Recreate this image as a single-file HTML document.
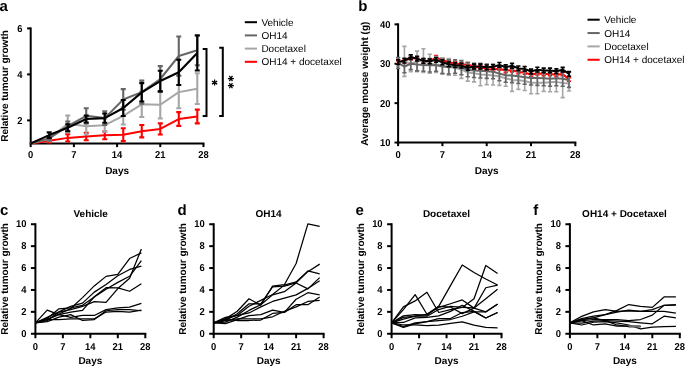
<!DOCTYPE html>
<html><head><meta charset="utf-8"><style>
html,body{margin:0;padding:0;background:#fff;width:685px;height:367px;overflow:hidden}
svg{display:block;will-change:transform}
text{font-family:"Liberation Sans", sans-serif;fill:#000;text-rendering:geometricPrecision}
.tk{font-size:10px;font-weight:bold}
.lb{font-size:10px;font-weight:bold}
.pl{font-size:15px;font-weight:bold}
.lg{font-size:10px}
.ti{font-size:10px;font-weight:bold}
</style></head><body>
<svg width="685" height="367" viewBox="0 0 685 367">
<text x="-0.5" y="10.6" class="pl">a</text>
<text x="358.3" y="10.6" class="pl">b</text>
<text x="0" y="215.3" class="pl">c</text>
<text x="177.6" y="215.3" class="pl">d</text>
<text x="355.6" y="215.3" class="pl">e</text>
<text x="533.3" y="215.3" class="pl">f</text>
<line x1="30.7" y1="27.400000000000006" x2="30.7" y2="144.5" stroke="#000" stroke-width="2.0"/>
<line x1="29.7" y1="143.5" x2="204.45999999999998" y2="143.5" stroke="#000" stroke-width="2.0"/>
<line x1="27.099999999999998" y1="120.4" x2="30.7" y2="120.4" stroke="#000" stroke-width="2.0"/>
<line x1="27.099999999999998" y1="74.4" x2="30.7" y2="74.4" stroke="#000" stroke-width="2.0"/>
<line x1="27.099999999999998" y1="28.400000000000006" x2="30.7" y2="28.400000000000006" stroke="#000" stroke-width="2.0"/>
<line x1="30.7" y1="143.5" x2="30.7" y2="147.1" stroke="#000" stroke-width="2.0"/>
<line x1="73.89" y1="143.5" x2="73.89" y2="147.1" stroke="#000" stroke-width="2.0"/>
<line x1="117.08" y1="143.5" x2="117.08" y2="147.1" stroke="#000" stroke-width="2.0"/>
<line x1="160.26999999999998" y1="143.5" x2="160.26999999999998" y2="147.1" stroke="#000" stroke-width="2.0"/>
<line x1="203.45999999999998" y1="143.5" x2="203.45999999999998" y2="147.1" stroke="#000" stroke-width="2.0"/>
<text transform="translate(22.40,123.70) scale(0.94,1)" text-anchor="end" class="tk">2</text>
<text transform="translate(22.40,77.70) scale(0.94,1)" text-anchor="end" class="tk">4</text>
<text transform="translate(22.40,31.70) scale(0.94,1)" text-anchor="end" class="tk">6</text>
<text transform="translate(30.70,158.10) scale(0.94,1)" text-anchor="middle" class="tk">0</text>
<text transform="translate(73.89,158.10) scale(0.94,1)" text-anchor="middle" class="tk">7</text>
<text transform="translate(117.08,158.10) scale(0.94,1)" text-anchor="middle" class="tk">14</text>
<text transform="translate(160.27,158.10) scale(0.94,1)" text-anchor="middle" class="tk">21</text>
<text transform="translate(203.46,158.10) scale(0.94,1)" text-anchor="middle" class="tk">28</text>
<text transform="translate(8.3,86.0) rotate(-90)" text-anchor="middle" class="lb">Relative tumour growth</text>
<text x="117.08" y="173.6" text-anchor="middle" class="lb">Days</text>
<path d="M30.70,143.40 L49.21,140.64 L67.72,137.88 L86.23,136.50 L104.74,135.35 L123.25,134.66 L141.76,131.21 L160.27,128.91 L178.78,119.02 L197.29,116.49" fill="none" stroke="#ff0000" stroke-width="2.0" stroke-linejoin="round"/>
<path d="M49.21,138.80 L49.21,142.48 M46.71,138.80 L51.71,138.80 M46.71,142.48 L51.71,142.48" stroke="#ff0000" stroke-width="2.1" fill="none"/>
<path d="M67.72,134.20 L67.72,141.56 M65.22,134.20 L70.22,134.20 M65.22,141.56 L70.22,141.56" stroke="#ff0000" stroke-width="2.1" fill="none"/>
<path d="M86.23,132.82 L86.23,140.18 M83.73,132.82 L88.73,132.82 M83.73,140.18 L88.73,140.18" stroke="#ff0000" stroke-width="2.1" fill="none"/>
<path d="M104.74,131.44 L104.74,139.26 M102.24,131.44 L107.24,131.44 M102.24,139.26 L107.24,139.26" stroke="#ff0000" stroke-width="2.1" fill="none"/>
<path d="M123.25,128.22 L123.25,141.10 M120.75,128.22 L125.75,128.22 M120.75,141.10 L125.75,141.10" stroke="#ff0000" stroke-width="2.1" fill="none"/>
<path d="M141.76,125.00 L141.76,137.42 M139.26,125.00 L144.26,125.00 M139.26,137.42 L144.26,137.42" stroke="#ff0000" stroke-width="2.1" fill="none"/>
<path d="M160.27,123.39 L160.27,134.43 M157.77,123.39 L162.77,123.39 M157.77,134.43 L162.77,134.43" stroke="#ff0000" stroke-width="2.1" fill="none"/>
<path d="M178.78,112.12 L178.78,125.92 M176.28,112.12 L181.28,112.12 M176.28,125.92 L181.28,125.92" stroke="#ff0000" stroke-width="2.1" fill="none"/>
<path d="M197.29,109.59 L197.29,123.39 M194.79,109.59 L199.79,109.59 M194.79,123.39 L199.79,123.39" stroke="#ff0000" stroke-width="2.1" fill="none"/>
<path d="M30.70,143.40 L49.21,138.80 L67.72,123.85 L86.23,126.15 L104.74,125.23 L123.25,115.80 L141.76,104.30 L160.27,104.76 L178.78,92.11 L197.29,88.66" fill="none" stroke="#a6a6a6" stroke-width="2.0" stroke-linejoin="round"/>
<path d="M49.21,136.50 L49.21,141.10 M46.71,136.50 L51.71,136.50 M46.71,141.10 L51.71,141.10" stroke="#a6a6a6" stroke-width="2.1" fill="none"/>
<path d="M67.72,115.57 L67.72,132.13 M65.22,115.57 L70.22,115.57 M65.22,132.13 L70.22,132.13" stroke="#a6a6a6" stroke-width="2.1" fill="none"/>
<path d="M86.23,117.87 L86.23,134.43 M83.73,117.87 L88.73,117.87 M83.73,134.43 L88.73,134.43" stroke="#a6a6a6" stroke-width="2.1" fill="none"/>
<path d="M104.74,118.79 L104.74,131.67 M102.24,118.79 L107.24,118.79 M102.24,131.67 L107.24,131.67" stroke="#a6a6a6" stroke-width="2.1" fill="none"/>
<path d="M123.25,107.06 L123.25,124.54 M120.75,107.06 L125.75,107.06 M120.75,124.54 L125.75,124.54" stroke="#a6a6a6" stroke-width="2.1" fill="none"/>
<path d="M141.76,91.65 L141.76,116.95 M139.26,91.65 L144.26,91.65 M139.26,116.95 L144.26,116.95" stroke="#a6a6a6" stroke-width="2.1" fill="none"/>
<path d="M160.27,90.96 L160.27,118.56 M157.77,90.96 L162.77,90.96 M157.77,118.56 L162.77,118.56" stroke="#a6a6a6" stroke-width="2.1" fill="none"/>
<path d="M178.78,76.01 L178.78,108.21 M176.28,76.01 L181.28,76.01 M176.28,108.21 L181.28,108.21" stroke="#a6a6a6" stroke-width="2.1" fill="none"/>
<path d="M197.29,73.25 L197.29,104.07 M194.79,73.25 L199.79,73.25 M194.79,104.07 L199.79,104.07" stroke="#a6a6a6" stroke-width="2.1" fill="none"/>
<path d="M30.70,143.40 L49.21,138.34 L67.72,126.15 L86.23,115.80 L104.74,118.10 L123.25,99.47 L141.76,92.11 L160.27,79.00 L178.78,56.00 L197.29,50.25" fill="none" stroke="#666666" stroke-width="2.0" stroke-linejoin="round"/>
<path d="M49.21,136.04 L49.21,140.64 M46.71,136.04 L51.71,136.04 M46.71,140.64 L51.71,140.64" stroke="#666666" stroke-width="2.1" fill="none"/>
<path d="M67.72,121.55 L67.72,130.75 M65.22,121.55 L70.22,121.55 M65.22,130.75 L70.22,130.75" stroke="#666666" stroke-width="2.1" fill="none"/>
<path d="M86.23,108.21 L86.23,123.39 M83.73,108.21 L88.73,108.21 M83.73,123.39 L88.73,123.39" stroke="#666666" stroke-width="2.1" fill="none"/>
<path d="M104.74,111.20 L104.74,125.00 M102.24,111.20 L107.24,111.20 M102.24,125.00 L107.24,125.00" stroke="#666666" stroke-width="2.1" fill="none"/>
<path d="M123.25,89.12 L123.25,109.82 M120.75,89.12 L125.75,89.12 M120.75,109.82 L125.75,109.82" stroke="#666666" stroke-width="2.1" fill="none"/>
<path d="M141.76,80.61 L141.76,103.61 M139.26,80.61 L144.26,80.61 M139.26,103.61 L144.26,103.61" stroke="#666666" stroke-width="2.1" fill="none"/>
<path d="M160.27,66.12 L160.27,91.88 M157.77,66.12 L162.77,66.12 M157.77,91.88 L162.77,91.88" stroke="#666666" stroke-width="2.1" fill="none"/>
<path d="M178.78,36.45 L178.78,75.55 M176.28,36.45 L181.28,36.45 M176.28,75.55 L181.28,75.55" stroke="#666666" stroke-width="2.1" fill="none"/>
<path d="M197.29,35.30 L197.29,65.20 M194.79,35.30 L199.79,35.30 M194.79,65.20 L199.79,65.20" stroke="#666666" stroke-width="2.1" fill="none"/>
<path d="M30.70,143.40 L49.21,135.12 L67.72,127.76 L86.23,119.02 L104.74,118.10 L123.25,107.98 L141.76,92.34 L160.27,81.07 L178.78,72.33 L197.29,53.01" fill="none" stroke="#000000" stroke-width="2.15" stroke-linejoin="round"/>
<path d="M49.21,132.36 L49.21,137.88 M46.71,132.36 L51.71,132.36 M46.71,137.88 L51.71,137.88" stroke="#000000" stroke-width="2.1" fill="none"/>
<path d="M67.72,124.31 L67.72,131.21 M65.22,124.31 L70.22,124.31 M65.22,131.21 L70.22,131.21" stroke="#000000" stroke-width="2.1" fill="none"/>
<path d="M86.23,115.57 L86.23,122.47 M83.73,115.57 L88.73,115.57 M83.73,122.47 L88.73,122.47" stroke="#000000" stroke-width="2.1" fill="none"/>
<path d="M104.74,113.50 L104.74,122.70 M102.24,113.50 L107.24,113.50 M102.24,122.70 L107.24,122.70" stroke="#000000" stroke-width="2.1" fill="none"/>
<path d="M123.25,99.93 L123.25,116.03 M120.75,99.93 L125.75,99.93 M120.75,116.03 L125.75,116.03" stroke="#000000" stroke-width="2.1" fill="none"/>
<path d="M141.76,83.14 L141.76,101.54 M139.26,83.14 L144.26,83.14 M139.26,101.54 L144.26,101.54" stroke="#000000" stroke-width="2.1" fill="none"/>
<path d="M160.27,70.72 L160.27,91.42 M157.77,70.72 L162.77,70.72 M157.77,91.42 L162.77,91.42" stroke="#000000" stroke-width="2.1" fill="none"/>
<path d="M178.78,59.68 L178.78,84.98 M176.28,59.68 L181.28,59.68 M176.28,84.98 L181.28,84.98" stroke="#000000" stroke-width="2.1" fill="none"/>
<path d="M197.29,35.53 L197.29,70.49 M194.79,35.53 L199.79,35.53 M194.79,70.49 L199.79,70.49" stroke="#000000" stroke-width="2.1" fill="none"/>
<path d="M202.7,49.1 L206.5,49.1 L206.5,116.0 L202.7,116.0" fill="none" stroke="#000" stroke-width="2"/>
<path d="M219.2,47.8 L222.8,47.8 L222.8,116.0 L219.2,116.0" fill="none" stroke="#000" stroke-width="2"/>
<path d="M214.60,79.60 L214.60,85.60 M217.20,81.10 L212.00,84.10 M217.20,84.10 L212.00,81.10" stroke="#000" stroke-width="1.25" fill="none"/>
<path d="M227.90,78.50 L233.90,78.50 M229.40,75.90 L232.40,81.10 M232.40,75.90 L229.40,81.10" stroke="#000" stroke-width="1.25" fill="none"/>
<path d="M227.90,85.70 L233.90,85.70 M229.40,83.10 L232.40,88.30 M232.40,83.10 L229.40,88.30" stroke="#000" stroke-width="1.25" fill="none"/>
<line x1="244.8" y1="22.20" x2="257" y2="22.20" stroke="#000000" stroke-width="2"/>
<text x="261.4" y="25.70" class="lg">Vehicle</text>
<line x1="244.8" y1="35.40" x2="257" y2="35.40" stroke="#666666" stroke-width="2"/>
<text x="261.4" y="38.90" class="lg">OH14</text>
<line x1="244.8" y1="48.60" x2="257" y2="48.60" stroke="#a6a6a6" stroke-width="2"/>
<text x="261.4" y="52.10" class="lg">Docetaxel</text>
<line x1="244.8" y1="61.80" x2="257" y2="61.80" stroke="#ff0000" stroke-width="2"/>
<text x="261.4" y="65.30" class="lg">OH14 + docetaxel</text>
<line x1="398.1" y1="23.35000000000001" x2="398.1" y2="143.55" stroke="#000" stroke-width="2.0"/>
<line x1="397.1" y1="142.55" x2="576.34" y2="142.55" stroke="#000" stroke-width="2.0"/>
<line x1="394.5" y1="142.55" x2="398.1" y2="142.55" stroke="#000" stroke-width="2.0"/>
<line x1="394.5" y1="103.15" x2="398.1" y2="103.15" stroke="#000" stroke-width="2.0"/>
<line x1="394.5" y1="63.750000000000014" x2="398.1" y2="63.750000000000014" stroke="#000" stroke-width="2.0"/>
<line x1="394.5" y1="24.35000000000001" x2="398.1" y2="24.35000000000001" stroke="#000" stroke-width="2.0"/>
<line x1="398.1" y1="142.55" x2="398.1" y2="146.15" stroke="#000" stroke-width="2.0"/>
<line x1="442.41" y1="142.55" x2="442.41" y2="146.15" stroke="#000" stroke-width="2.0"/>
<line x1="486.72" y1="142.55" x2="486.72" y2="146.15" stroke="#000" stroke-width="2.0"/>
<line x1="531.03" y1="142.55" x2="531.03" y2="146.15" stroke="#000" stroke-width="2.0"/>
<line x1="575.34" y1="142.55" x2="575.34" y2="146.15" stroke="#000" stroke-width="2.0"/>
<text transform="translate(390.50,146.05) scale(0.94,1)" text-anchor="end" class="tk">10</text>
<text transform="translate(390.50,106.65) scale(0.94,1)" text-anchor="end" class="tk">20</text>
<text transform="translate(390.50,67.25) scale(0.94,1)" text-anchor="end" class="tk">30</text>
<text transform="translate(390.50,27.85) scale(0.94,1)" text-anchor="end" class="tk">40</text>
<text transform="translate(398.10,158.30) scale(0.94,1)" text-anchor="middle" class="tk">0</text>
<text transform="translate(442.41,158.30) scale(0.94,1)" text-anchor="middle" class="tk">7</text>
<text transform="translate(486.72,158.30) scale(0.94,1)" text-anchor="middle" class="tk">14</text>
<text transform="translate(531.03,158.30) scale(0.94,1)" text-anchor="middle" class="tk">21</text>
<text transform="translate(575.34,158.30) scale(0.94,1)" text-anchor="middle" class="tk">28</text>
<text transform="translate(367.9,83.7) rotate(-90)" text-anchor="middle" class="lb">Average mouse weight (g)</text>
<text x="486.72" y="173.6" text-anchor="middle" class="lb">Days</text>
<path d="M398.10,62.37 L404.43,60.99 L410.76,57.84 L417.09,59.02 L423.42,61.19 L429.75,61.58 L436.08,57.33 L442.41,60.05 L448.74,62.41 L455.07,63.08 L461.40,64.66 L467.73,64.22 L474.06,66.90 L480.39,67.30 L486.72,68.87 L493.05,69.66 L499.38,68.48 L505.71,70.84 L512.04,70.05 L518.37,72.02 L524.70,72.42 L531.03,74.78 L537.36,73.21 L543.69,73.99 L550.02,73.99 L556.35,74.78 L562.68,73.99 L569.01,79.51" fill="none" stroke="#ff0000" stroke-width="2" stroke-linejoin="round"/>
<path d="M398.10,60.60 L398.10,64.14 M396.00,60.60 L400.20,60.60 M396.00,64.14 L400.20,64.14 M404.43,59.22 L404.43,62.77 M402.33,59.22 L406.53,59.22 M402.33,62.77 L406.53,62.77 M410.76,56.07 L410.76,59.61 M408.66,56.07 L412.86,56.07 M408.66,59.61 L412.86,59.61 M417.09,57.25 L417.09,60.80 M414.99,57.25 L419.19,57.25 M414.99,60.80 L419.19,60.80 M423.42,59.42 L423.42,62.96 M421.32,59.42 L425.52,59.42 M421.32,62.96 L425.52,62.96 M429.75,59.81 L429.75,63.36 M427.65,59.81 L431.85,59.81 M427.65,63.36 L431.85,63.36 M436.08,55.55 L436.08,59.10 M433.98,55.55 L438.18,55.55 M433.98,59.10 L438.18,59.10 M442.41,58.27 L442.41,61.82 M440.31,58.27 L444.51,58.27 M440.31,61.82 L444.51,61.82 M448.74,60.64 L448.74,64.18 M446.64,60.64 L450.84,60.64 M446.64,64.18 L450.84,64.18 M455.07,61.31 L455.07,64.85 M452.97,61.31 L457.17,61.31 M452.97,64.85 L457.17,64.85 M461.40,62.88 L461.40,66.43 M459.30,62.88 L463.50,62.88 M459.30,66.43 L463.50,66.43 M467.73,62.45 L467.73,66.00 M465.63,62.45 L469.83,62.45 M465.63,66.00 L469.83,66.00 M474.06,65.13 L474.06,68.68 M471.96,65.13 L476.16,65.13 M471.96,68.68 L476.16,68.68 M480.39,65.52 L480.39,69.07 M478.29,65.52 L482.49,65.52 M478.29,69.07 L482.49,69.07 M486.72,67.10 L486.72,70.65 M484.62,67.10 L488.82,67.10 M484.62,70.65 L488.82,70.65 M493.05,67.89 L493.05,71.43 M490.95,67.89 L495.15,67.89 M490.95,71.43 L495.15,71.43 M499.38,66.71 L499.38,70.25 M497.28,66.71 L501.48,66.71 M497.28,70.25 L501.48,70.25 M505.71,69.07 L505.71,72.62 M503.61,69.07 L507.81,69.07 M503.61,72.62 L507.81,72.62 M512.04,68.28 L512.04,71.83 M509.94,68.28 L514.14,68.28 M509.94,71.83 L514.14,71.83 M518.37,70.25 L518.37,73.80 M516.27,70.25 L520.47,70.25 M516.27,73.80 L520.47,73.80 M524.70,70.65 L524.70,74.19 M522.60,70.65 L526.80,70.65 M522.60,74.19 L526.80,74.19 M531.03,73.01 L531.03,76.56 M528.93,73.01 L533.13,73.01 M528.93,76.56 L533.13,76.56 M537.36,71.43 L537.36,74.98 M535.26,71.43 L539.46,71.43 M535.26,74.98 L539.46,74.98 M543.69,72.22 L543.69,75.77 M541.59,72.22 L545.79,72.22 M541.59,75.77 L545.79,75.77 M550.02,72.22 L550.02,75.77 M547.92,72.22 L552.12,72.22 M547.92,75.77 L552.12,75.77 M556.35,73.01 L556.35,76.56 M554.25,73.01 L558.45,73.01 M554.25,76.56 L558.45,76.56 M562.68,72.22 L562.68,75.77 M560.58,72.22 L564.78,72.22 M560.58,75.77 L564.78,75.77 M569.01,77.74 L569.01,81.28 M566.91,77.74 L571.11,77.74 M566.91,81.28 L571.11,81.28" stroke="#ff0000" stroke-width="1.6" fill="none"/>
<path d="M398.10,62.57 L404.43,61.39 L410.76,63.75 L417.09,61.39 L423.42,60.60 L429.75,63.75 L436.08,64.54 L442.41,65.72 L448.74,66.90 L455.07,67.69 L461.40,69.66 L467.73,72.42 L474.06,73.21 L480.39,74.39 L486.72,74.78 L493.05,75.57 L499.38,76.36 L505.71,78.33 L512.04,79.90 L518.37,80.30 L524.70,81.09 L531.03,82.66 L537.36,82.66 L543.69,82.66 L550.02,82.27 L556.35,81.87 L562.68,83.06 L569.01,83.45" fill="none" stroke="#a6a6a6" stroke-width="2" stroke-linejoin="round"/>
<path d="M398.10,58.63 L398.10,66.51 M396.00,58.63 L400.20,58.63 M396.00,66.51 L400.20,66.51 M404.43,46.41 L404.43,76.36 M402.33,46.41 L406.53,46.41 M402.33,76.36 L406.53,76.36 M410.76,55.87 L410.76,71.63 M408.66,55.87 L412.86,55.87 M408.66,71.63 L412.86,71.63 M417.09,51.14 L417.09,71.63 M414.99,51.14 L419.19,51.14 M414.99,71.63 L419.19,71.63 M423.42,48.78 L423.42,72.42 M421.32,48.78 L425.52,48.78 M421.32,72.42 L425.52,72.42 M429.75,54.29 L429.75,73.21 M427.65,54.29 L431.85,54.29 M427.65,73.21 L431.85,73.21 M436.08,56.66 L436.08,72.42 M433.98,56.66 L438.18,56.66 M433.98,72.42 L438.18,72.42 M442.41,57.84 L442.41,73.60 M440.31,57.84 L444.51,57.84 M440.31,73.60 L444.51,73.60 M448.74,58.63 L448.74,75.18 M446.64,58.63 L450.84,58.63 M446.64,75.18 L450.84,75.18 M455.07,60.20 L455.07,75.18 M452.97,60.20 L457.17,60.20 M452.97,75.18 L457.17,75.18 M461.40,60.99 L461.40,78.33 M459.30,60.99 L463.50,60.99 M459.30,78.33 L463.50,78.33 M467.73,63.75 L467.73,81.09 M465.63,63.75 L469.83,63.75 M465.63,81.09 L469.83,81.09 M474.06,64.54 L474.06,81.87 M471.96,64.54 L476.16,64.54 M471.96,81.87 L476.16,81.87 M480.39,62.96 L480.39,85.81 M478.29,62.96 L482.49,62.96 M478.29,85.81 L482.49,85.81 M486.72,64.93 L486.72,84.63 M484.62,64.93 L488.82,64.93 M484.62,84.63 L488.82,84.63 M493.05,66.11 L493.05,85.03 M490.95,66.11 L495.15,66.11 M490.95,85.03 L495.15,85.03 M499.38,67.30 L499.38,85.42 M497.28,67.30 L501.48,67.30 M497.28,85.42 L501.48,85.42 M505.71,70.45 L505.71,86.21 M503.61,70.45 L507.81,70.45 M503.61,86.21 L507.81,86.21 M512.04,68.48 L512.04,91.33 M509.94,68.48 L514.14,68.48 M509.94,91.33 L514.14,91.33 M518.37,71.24 L518.37,89.36 M516.27,71.24 L520.47,71.24 M516.27,89.36 L520.47,89.36 M524.70,71.63 L524.70,90.54 M522.60,71.63 L526.80,71.63 M522.60,90.54 L526.80,90.54 M531.03,71.63 L531.03,93.69 M528.93,71.63 L533.13,71.63 M528.93,93.69 L533.13,93.69 M537.36,71.63 L537.36,93.69 M535.26,71.63 L539.46,71.63 M535.26,93.69 L539.46,93.69 M543.69,73.99 L543.69,91.33 M541.59,73.99 L545.79,73.99 M541.59,91.33 L545.79,91.33 M550.02,72.81 L550.02,91.72 M547.92,72.81 L552.12,72.81 M547.92,91.72 L552.12,91.72 M556.35,72.02 L556.35,91.72 M554.25,72.02 L558.45,72.02 M554.25,91.72 L558.45,91.72 M562.68,68.48 L562.68,97.63 M560.58,68.48 L564.78,68.48 M560.58,97.63 L564.78,97.63 M569.01,75.96 L569.01,90.94 M566.91,75.96 L571.11,75.96 M566.91,90.94 L571.11,90.94" stroke="#a6a6a6" stroke-width="1.6" fill="none"/>
<path d="M398.10,62.96 L404.43,66.51 L410.76,63.75 L417.09,64.54 L423.42,64.93 L429.75,65.33 L436.08,64.93 L442.41,66.51 L448.74,66.90 L455.07,66.51 L461.40,67.69 L467.73,69.66 L474.06,70.45 L480.39,70.84 L486.72,71.24 L493.05,71.63 L499.38,73.60 L505.71,75.18 L512.04,75.57 L518.37,76.36 L524.70,77.15 L531.03,77.93 L537.36,77.93 L543.69,78.33 L550.02,78.72 L556.35,78.33 L562.68,78.72 L569.01,79.90" fill="none" stroke="#666666" stroke-width="2" stroke-linejoin="round"/>
<path d="M398.10,57.45 L398.10,68.48 M396.00,57.45 L400.20,57.45 M396.00,68.48 L400.20,68.48 M404.43,60.20 L404.43,72.81 M402.33,60.20 L406.53,60.20 M402.33,72.81 L406.53,72.81 M410.76,57.84 L410.76,69.66 M408.66,57.84 L412.86,57.84 M408.66,69.66 L412.86,69.66 M417.09,58.23 L417.09,70.84 M414.99,58.23 L419.19,58.23 M414.99,70.84 L419.19,70.84 M423.42,58.63 L423.42,71.24 M421.32,58.63 L425.52,58.63 M421.32,71.24 L425.52,71.24 M429.75,58.63 L429.75,72.02 M427.65,58.63 L431.85,58.63 M427.65,72.02 L431.85,72.02 M436.08,58.63 L436.08,71.24 M433.98,58.63 L438.18,58.63 M433.98,71.24 L438.18,71.24 M442.41,59.42 L442.41,73.60 M440.31,59.42 L444.51,59.42 M440.31,73.60 L444.51,73.60 M448.74,59.81 L448.74,73.99 M446.64,59.81 L450.84,59.81 M446.64,73.99 L450.84,73.99 M455.07,59.81 L455.07,73.21 M452.97,59.81 L457.17,59.81 M452.97,73.21 L457.17,73.21 M461.40,60.60 L461.40,74.78 M459.30,60.60 L463.50,60.60 M459.30,74.78 L463.50,74.78 M467.73,62.57 L467.73,76.75 M465.63,62.57 L469.83,62.57 M465.63,76.75 L469.83,76.75 M474.06,63.36 L474.06,77.54 M471.96,63.36 L476.16,63.36 M471.96,77.54 L476.16,77.54 M480.39,63.75 L480.39,77.93 M478.29,63.75 L482.49,63.75 M478.29,77.93 L482.49,77.93 M486.72,64.14 L486.72,78.33 M484.62,64.14 L488.82,64.14 M484.62,78.33 L488.82,78.33 M493.05,64.54 L493.05,78.72 M490.95,64.54 L495.15,64.54 M490.95,78.72 L495.15,78.72 M499.38,66.51 L499.38,80.69 M497.28,66.51 L501.48,66.51 M497.28,80.69 L501.48,80.69 M505.71,68.08 L505.71,82.27 M503.61,68.08 L507.81,68.08 M503.61,82.27 L507.81,82.27 M512.04,68.48 L512.04,82.66 M509.94,68.48 L514.14,68.48 M509.94,82.66 L514.14,82.66 M518.37,69.27 L518.37,83.45 M516.27,69.27 L520.47,69.27 M516.27,83.45 L520.47,83.45 M524.70,70.05 L524.70,84.24 M522.60,70.05 L526.80,70.05 M522.60,84.24 L526.80,84.24 M531.03,70.84 L531.03,85.03 M528.93,70.84 L533.13,70.84 M528.93,85.03 L533.13,85.03 M537.36,70.45 L537.36,85.42 M535.26,70.45 L539.46,70.45 M535.26,85.42 L539.46,85.42 M543.69,70.84 L543.69,85.81 M541.59,70.84 L545.79,70.84 M541.59,85.81 L545.79,85.81 M550.02,71.24 L550.02,86.21 M547.92,71.24 L552.12,71.24 M547.92,86.21 L552.12,86.21 M556.35,70.84 L556.35,85.81 M554.25,70.84 L558.45,70.84 M554.25,85.81 L558.45,85.81 M562.68,71.24 L562.68,86.21 M560.58,71.24 L564.78,71.24 M560.58,86.21 L564.78,86.21 M569.01,72.42 L569.01,87.39 M566.91,72.42 L571.11,72.42 M566.91,87.39 L571.11,87.39" stroke="#666666" stroke-width="1.6" fill="none"/>
<path d="M398.10,62.06 L404.43,60.60 L410.76,57.09 L417.09,58.63 L423.42,60.87 L429.75,61.35 L436.08,59.81 L442.41,62.25 L448.74,64.22 L455.07,65.21 L461.40,65.56 L467.73,67.97 L474.06,66.51 L480.39,66.51 L486.72,67.30 L493.05,66.86 L499.38,64.93 L505.71,67.26 L512.04,65.72 L518.37,68.44 L524.70,68.87 L531.03,71.51 L537.36,69.62 L543.69,70.45 L550.02,70.45 L556.35,71.20 L562.68,69.66 L569.01,73.95" fill="none" stroke="#000000" stroke-width="2" stroke-linejoin="round"/>
<path d="M398.10,59.69 L398.10,64.42 M396.00,59.69 L400.20,59.69 M396.00,64.42 L400.20,64.42 M404.43,58.23 L404.43,62.96 M402.33,58.23 L406.53,58.23 M402.33,62.96 L406.53,62.96 M410.76,54.73 L410.76,59.46 M408.66,54.73 L412.86,54.73 M408.66,59.46 L412.86,59.46 M417.09,56.26 L417.09,60.99 M414.99,56.26 L419.19,56.26 M414.99,60.99 L419.19,60.99 M423.42,58.51 L423.42,63.24 M421.32,58.51 L425.52,58.51 M421.32,63.24 L425.52,63.24 M429.75,58.98 L429.75,63.71 M427.65,58.98 L431.85,58.98 M427.65,63.71 L431.85,63.71 M436.08,57.45 L436.08,62.17 M433.98,57.45 L438.18,57.45 M433.98,62.17 L438.18,62.17 M442.41,59.89 L442.41,64.62 M440.31,59.89 L444.51,59.89 M440.31,64.62 L444.51,64.62 M448.74,61.86 L448.74,66.59 M446.64,61.86 L450.84,61.86 M446.64,66.59 L450.84,66.59 M455.07,62.84 L455.07,67.57 M452.97,62.84 L457.17,62.84 M452.97,67.57 L457.17,67.57 M461.40,63.20 L461.40,67.93 M459.30,63.20 L463.50,63.20 M459.30,67.93 L463.50,67.93 M467.73,65.60 L467.73,70.33 M465.63,65.60 L469.83,65.60 M465.63,70.33 L469.83,70.33 M474.06,64.14 L474.06,68.87 M471.96,64.14 L476.16,64.14 M471.96,68.87 L476.16,68.87 M480.39,64.14 L480.39,68.87 M478.29,64.14 L482.49,64.14 M478.29,68.87 L482.49,68.87 M486.72,64.93 L486.72,69.66 M484.62,64.93 L488.82,64.93 M484.62,69.66 L488.82,69.66 M493.05,64.50 L493.05,69.23 M490.95,64.50 L495.15,64.50 M490.95,69.23 L495.15,69.23 M499.38,62.57 L499.38,67.30 M497.28,62.57 L501.48,62.57 M497.28,67.30 L501.48,67.30 M505.71,64.89 L505.71,69.62 M503.61,64.89 L507.81,64.89 M503.61,69.62 L507.81,69.62 M512.04,63.36 L512.04,68.08 M509.94,63.36 L514.14,63.36 M509.94,68.08 L514.14,68.08 M518.37,66.07 L518.37,70.80 M516.27,66.07 L520.47,66.07 M516.27,70.80 L520.47,70.80 M524.70,66.51 L524.70,71.24 M522.60,66.51 L526.80,66.51 M522.60,71.24 L526.80,71.24 M531.03,69.15 L531.03,73.88 M528.93,69.15 L533.13,69.15 M528.93,73.88 L533.13,73.88 M537.36,67.26 L537.36,71.98 M535.26,67.26 L539.46,67.26 M535.26,71.98 L539.46,71.98 M543.69,68.08 L543.69,72.81 M541.59,68.08 L545.79,68.08 M541.59,72.81 L545.79,72.81 M550.02,68.08 L550.02,72.81 M547.92,68.08 L552.12,68.08 M547.92,72.81 L552.12,72.81 M556.35,68.83 L556.35,73.56 M554.25,68.83 L558.45,68.83 M554.25,73.56 L558.45,73.56 M562.68,67.30 L562.68,72.02 M560.58,67.30 L564.78,67.30 M560.58,72.02 L564.78,72.02 M569.01,71.59 L569.01,76.32 M566.91,71.59 L571.11,71.59 M566.91,76.32 L571.11,76.32" stroke="#000000" stroke-width="1.6" fill="none"/>
<line x1="587.5" y1="19.70" x2="599.7" y2="19.70" stroke="#000000" stroke-width="2"/>
<text x="604.2" y="23.20" class="lg">Vehicle</text>
<line x1="587.5" y1="33.05" x2="599.7" y2="33.05" stroke="#666666" stroke-width="2"/>
<text x="604.2" y="36.55" class="lg">OH14</text>
<line x1="587.5" y1="46.40" x2="599.7" y2="46.40" stroke="#a6a6a6" stroke-width="2"/>
<text x="604.2" y="49.90" class="lg">Docetaxel</text>
<line x1="587.5" y1="59.75" x2="599.7" y2="59.75" stroke="#ff0000" stroke-width="2"/>
<text x="604.2" y="63.25" class="lg">OH14 + docetaxel</text>
<line x1="35.4" y1="223.25" x2="35.4" y2="334.75" stroke="#000" stroke-width="2.0"/>
<line x1="34.4" y1="333.75" x2="146.29999999999998" y2="333.75" stroke="#000" stroke-width="2.0"/>
<line x1="30.9" y1="333.75" x2="35.4" y2="333.75" stroke="#000" stroke-width="2.0"/>
<line x1="30.9" y1="311.85" x2="35.4" y2="311.85" stroke="#000" stroke-width="2.0"/>
<line x1="30.9" y1="289.95" x2="35.4" y2="289.95" stroke="#000" stroke-width="2.0"/>
<line x1="30.9" y1="268.05" x2="35.4" y2="268.05" stroke="#000" stroke-width="2.0"/>
<line x1="30.9" y1="246.15" x2="35.4" y2="246.15" stroke="#000" stroke-width="2.0"/>
<line x1="30.9" y1="224.25" x2="35.4" y2="224.25" stroke="#000" stroke-width="2.0"/>
<line x1="35.4" y1="333.75" x2="35.4" y2="338.25" stroke="#000" stroke-width="2.0"/>
<line x1="62.875" y1="333.75" x2="62.875" y2="338.25" stroke="#000" stroke-width="2.0"/>
<line x1="90.35" y1="333.75" x2="90.35" y2="338.25" stroke="#000" stroke-width="2.0"/>
<line x1="117.82499999999999" y1="333.75" x2="117.82499999999999" y2="338.25" stroke="#000" stroke-width="2.0"/>
<line x1="145.29999999999998" y1="333.75" x2="145.29999999999998" y2="338.25" stroke="#000" stroke-width="2.0"/>
<text transform="translate(26.40,336.95) scale(0.94,1)" text-anchor="end" class="tk">0</text>
<text transform="translate(26.40,315.05) scale(0.94,1)" text-anchor="end" class="tk">2</text>
<text transform="translate(26.40,293.15) scale(0.94,1)" text-anchor="end" class="tk">4</text>
<text transform="translate(26.40,271.25) scale(0.94,1)" text-anchor="end" class="tk">6</text>
<text transform="translate(26.40,249.35) scale(0.94,1)" text-anchor="end" class="tk">8</text>
<text transform="translate(26.40,227.45) scale(0.94,1)" text-anchor="end" class="tk">10</text>
<text transform="translate(35.40,349.60) scale(0.94,1)" text-anchor="middle" class="tk">0</text>
<text transform="translate(62.88,349.60) scale(0.94,1)" text-anchor="middle" class="tk">7</text>
<text transform="translate(90.35,349.60) scale(0.94,1)" text-anchor="middle" class="tk">14</text>
<text transform="translate(117.82,349.60) scale(0.94,1)" text-anchor="middle" class="tk">21</text>
<text transform="translate(145.30,349.60) scale(0.94,1)" text-anchor="middle" class="tk">28</text>
<text transform="translate(7.90,279.00) rotate(-90)" text-anchor="middle" class="lb">Relative tumour growth</text>
<text x="90.35" y="364.0" text-anchor="middle" class="lb">Days</text>
<text x="90.70" y="216.6" text-anchor="middle" class="ti">Vehicle</text>
<path d="M35.40,322.80 L47.17,319.51 L58.95,314.04 L70.72,308.56 L82.50,297.62 L94.28,285.90 L106.05,276.37 L117.82,274.29 L129.60,258.52 L141.38,252.83" fill="none" stroke="#000" stroke-width="1.25" stroke-linejoin="round"/>
<path d="M35.40,322.80 L47.17,317.32 L58.95,311.85 L70.72,306.38 L82.50,303.09 L94.28,292.14 L106.05,284.48 L117.82,275.72 L129.60,269.47 L141.38,266.08" fill="none" stroke="#000" stroke-width="1.25" stroke-linejoin="round"/>
<path d="M35.40,322.80 L47.17,318.42 L58.95,308.78 L70.72,307.91 L82.50,305.28 L94.28,296.96 L106.05,289.18 L117.82,282.39 L129.60,276.26 L141.38,260.60" fill="none" stroke="#000" stroke-width="1.25" stroke-linejoin="round"/>
<path d="M35.40,322.80 L47.17,320.61 L58.95,312.07 L70.72,309.55 L82.50,306.38 L94.28,301.56 L106.05,302.43 L117.82,288.53 L129.60,278.34 L141.38,249.00" fill="none" stroke="#000" stroke-width="1.25" stroke-linejoin="round"/>
<path d="M35.40,322.80 L47.17,319.51 L58.95,314.59 L70.72,312.07 L82.50,310.43 L94.28,296.74 L106.05,287.65 L117.82,287.87 L129.60,291.26 L141.38,283.82" fill="none" stroke="#000" stroke-width="1.25" stroke-linejoin="round"/>
<path d="M35.40,322.80 L47.17,310.10 L58.95,314.59 L70.72,317.32 L82.50,315.46 L94.28,315.46 L106.05,309.66 L117.82,307.91 L129.60,307.03 L141.38,303.42" fill="none" stroke="#000" stroke-width="1.25" stroke-linejoin="round"/>
<path d="M35.40,322.80 L47.17,321.70 L58.95,317.11 L70.72,314.59 L82.50,320.50 L94.28,319.62 L106.05,310.75 L117.82,309.66 L129.60,309.66 L141.38,310.75" fill="none" stroke="#000" stroke-width="1.25" stroke-linejoin="round"/>
<path d="M35.40,322.80 L47.17,319.51 L58.95,319.62 L70.72,318.86 L82.50,318.86 L94.28,318.86 L106.05,312.07 L117.82,311.30 L129.60,312.07 L141.38,310.21" fill="none" stroke="#000" stroke-width="1.25" stroke-linejoin="round"/>
<line x1="213.7" y1="223.25" x2="213.7" y2="334.75" stroke="#000" stroke-width="2.0"/>
<line x1="212.7" y1="333.75" x2="324.59999999999997" y2="333.75" stroke="#000" stroke-width="2.0"/>
<line x1="209.2" y1="333.75" x2="213.7" y2="333.75" stroke="#000" stroke-width="2.0"/>
<line x1="209.2" y1="311.85" x2="213.7" y2="311.85" stroke="#000" stroke-width="2.0"/>
<line x1="209.2" y1="289.95" x2="213.7" y2="289.95" stroke="#000" stroke-width="2.0"/>
<line x1="209.2" y1="268.05" x2="213.7" y2="268.05" stroke="#000" stroke-width="2.0"/>
<line x1="209.2" y1="246.15" x2="213.7" y2="246.15" stroke="#000" stroke-width="2.0"/>
<line x1="209.2" y1="224.25" x2="213.7" y2="224.25" stroke="#000" stroke-width="2.0"/>
<line x1="213.7" y1="333.75" x2="213.7" y2="338.25" stroke="#000" stroke-width="2.0"/>
<line x1="241.17499999999998" y1="333.75" x2="241.17499999999998" y2="338.25" stroke="#000" stroke-width="2.0"/>
<line x1="268.65" y1="333.75" x2="268.65" y2="338.25" stroke="#000" stroke-width="2.0"/>
<line x1="296.125" y1="333.75" x2="296.125" y2="338.25" stroke="#000" stroke-width="2.0"/>
<line x1="323.59999999999997" y1="333.75" x2="323.59999999999997" y2="338.25" stroke="#000" stroke-width="2.0"/>
<text transform="translate(204.70,336.95) scale(0.94,1)" text-anchor="end" class="tk">0</text>
<text transform="translate(204.70,315.05) scale(0.94,1)" text-anchor="end" class="tk">2</text>
<text transform="translate(204.70,293.15) scale(0.94,1)" text-anchor="end" class="tk">4</text>
<text transform="translate(204.70,271.25) scale(0.94,1)" text-anchor="end" class="tk">6</text>
<text transform="translate(204.70,249.35) scale(0.94,1)" text-anchor="end" class="tk">8</text>
<text transform="translate(204.70,227.45) scale(0.94,1)" text-anchor="end" class="tk">10</text>
<text transform="translate(213.70,349.60) scale(0.94,1)" text-anchor="middle" class="tk">0</text>
<text transform="translate(241.17,349.60) scale(0.94,1)" text-anchor="middle" class="tk">7</text>
<text transform="translate(268.65,349.60) scale(0.94,1)" text-anchor="middle" class="tk">14</text>
<text transform="translate(296.12,349.60) scale(0.94,1)" text-anchor="middle" class="tk">21</text>
<text transform="translate(323.60,349.60) scale(0.94,1)" text-anchor="middle" class="tk">28</text>
<text transform="translate(186.20,279.00) rotate(-90)" text-anchor="middle" class="lb">Relative tumour growth</text>
<text x="268.65" y="364.0" text-anchor="middle" class="lb">Days</text>
<text x="268.50" y="216.6" text-anchor="middle" class="ti">OH14</text>
<path d="M213.70,322.80 L225.47,318.86 L237.25,311.30 L249.02,298.71 L260.80,305.28 L272.57,286.12 L284.35,284.69 L296.12,263.45 L307.90,223.81 L319.67,226.44" fill="none" stroke="#000" stroke-width="1.25" stroke-linejoin="round"/>
<path d="M213.70,322.80 L225.47,320.61 L237.25,313.71 L249.02,303.75 L260.80,303.75 L272.57,286.88 L284.35,286.12 L296.12,282.83 L307.90,271.66 L319.67,264.11" fill="none" stroke="#000" stroke-width="1.25" stroke-linejoin="round"/>
<path d="M213.70,322.80 L225.47,317.32 L237.25,315.46 L249.02,306.27 L260.80,300.35 L272.57,294.44 L284.35,285.13 L296.12,281.85 L307.90,270.90 L319.67,273.85" fill="none" stroke="#000" stroke-width="1.25" stroke-linejoin="round"/>
<path d="M213.70,322.80 L225.47,322.14 L237.25,317.11 L249.02,310.43 L260.80,304.73 L272.57,294.88 L284.35,291.70 L296.12,282.94 L307.90,288.86 L319.67,277.58" fill="none" stroke="#000" stroke-width="1.25" stroke-linejoin="round"/>
<path d="M213.70,322.80 L225.47,318.86 L237.25,315.46 L249.02,312.94 L260.80,306.92 L272.57,301.45 L284.35,298.16 L296.12,294.88 L307.90,288.42 L319.67,280.75" fill="none" stroke="#000" stroke-width="1.25" stroke-linejoin="round"/>
<path d="M213.70,322.80 L225.47,323.57 L237.25,319.62 L249.02,315.68 L260.80,314.59 L272.57,310.21 L284.35,312.40 L296.12,299.26 L307.90,292.69 L319.67,294.88" fill="none" stroke="#000" stroke-width="1.25" stroke-linejoin="round"/>
<path d="M213.70,322.80 L225.47,320.50 L237.25,318.86 L249.02,318.86 L260.80,318.97 L272.57,316.78 L284.35,311.30 L296.12,306.92 L307.90,301.45 L319.67,300.35" fill="none" stroke="#000" stroke-width="1.25" stroke-linejoin="round"/>
<path d="M213.70,322.80 L225.47,319.51 L237.25,320.50 L249.02,320.50 L260.80,320.06 L272.57,313.49 L284.35,312.40 L296.12,304.73 L307.90,304.73 L319.67,297.07" fill="none" stroke="#000" stroke-width="1.25" stroke-linejoin="round"/>
<line x1="391.6" y1="223.25" x2="391.6" y2="334.75" stroke="#000" stroke-width="2.0"/>
<line x1="390.6" y1="333.75" x2="502.5" y2="333.75" stroke="#000" stroke-width="2.0"/>
<line x1="387.1" y1="333.75" x2="391.6" y2="333.75" stroke="#000" stroke-width="2.0"/>
<line x1="387.1" y1="311.85" x2="391.6" y2="311.85" stroke="#000" stroke-width="2.0"/>
<line x1="387.1" y1="289.95" x2="391.6" y2="289.95" stroke="#000" stroke-width="2.0"/>
<line x1="387.1" y1="268.05" x2="391.6" y2="268.05" stroke="#000" stroke-width="2.0"/>
<line x1="387.1" y1="246.15" x2="391.6" y2="246.15" stroke="#000" stroke-width="2.0"/>
<line x1="387.1" y1="224.25" x2="391.6" y2="224.25" stroke="#000" stroke-width="2.0"/>
<line x1="391.6" y1="333.75" x2="391.6" y2="338.25" stroke="#000" stroke-width="2.0"/>
<line x1="419.07500000000005" y1="333.75" x2="419.07500000000005" y2="338.25" stroke="#000" stroke-width="2.0"/>
<line x1="446.55" y1="333.75" x2="446.55" y2="338.25" stroke="#000" stroke-width="2.0"/>
<line x1="474.02500000000003" y1="333.75" x2="474.02500000000003" y2="338.25" stroke="#000" stroke-width="2.0"/>
<line x1="501.5" y1="333.75" x2="501.5" y2="338.25" stroke="#000" stroke-width="2.0"/>
<text transform="translate(382.60,336.95) scale(0.94,1)" text-anchor="end" class="tk">0</text>
<text transform="translate(382.60,315.05) scale(0.94,1)" text-anchor="end" class="tk">2</text>
<text transform="translate(382.60,293.15) scale(0.94,1)" text-anchor="end" class="tk">4</text>
<text transform="translate(382.60,271.25) scale(0.94,1)" text-anchor="end" class="tk">6</text>
<text transform="translate(382.60,249.35) scale(0.94,1)" text-anchor="end" class="tk">8</text>
<text transform="translate(382.60,227.45) scale(0.94,1)" text-anchor="end" class="tk">10</text>
<text transform="translate(391.60,349.60) scale(0.94,1)" text-anchor="middle" class="tk">0</text>
<text transform="translate(419.08,349.60) scale(0.94,1)" text-anchor="middle" class="tk">7</text>
<text transform="translate(446.55,349.60) scale(0.94,1)" text-anchor="middle" class="tk">14</text>
<text transform="translate(474.03,349.60) scale(0.94,1)" text-anchor="middle" class="tk">21</text>
<text transform="translate(501.50,349.60) scale(0.94,1)" text-anchor="middle" class="tk">28</text>
<text transform="translate(364.10,279.00) rotate(-90)" text-anchor="middle" class="lb">Relative tumour growth</text>
<text x="446.55" y="364.0" text-anchor="middle" class="lb">Days</text>
<text x="446.50" y="216.6" text-anchor="middle" class="ti">Docetaxel</text>
<path d="M391.60,322.80 L403.38,309.66 L415.15,294.66 L426.93,314.26 L438.70,307.47 L450.48,303.75 L462.25,299.91 L474.03,308.13 L485.80,311.96 L497.58,304.29" fill="none" stroke="#000" stroke-width="1.25" stroke-linejoin="round"/>
<path d="M391.60,322.80 L403.38,306.92 L415.15,300.90 L426.93,292.25 L438.70,312.51 L450.48,309.66 L462.25,307.47 L474.03,298.71 L485.80,265.42 L497.58,273.52" fill="none" stroke="#000" stroke-width="1.25" stroke-linejoin="round"/>
<path d="M391.60,322.80 L403.38,317.32 L415.15,316.23 L426.93,314.26 L438.70,306.38 L450.48,285.68 L462.25,264.98 L474.03,272.43 L485.80,279.00 L497.58,285.02" fill="none" stroke="#000" stroke-width="1.25" stroke-linejoin="round"/>
<path d="M391.60,322.80 L403.38,315.90 L415.15,314.59 L426.93,315.13 L438.70,306.27 L450.48,307.03 L462.25,313.60 L474.03,308.13 L485.80,287.76 L497.58,285.02" fill="none" stroke="#000" stroke-width="1.25" stroke-linejoin="round"/>
<path d="M391.60,322.80 L403.38,319.19 L415.15,316.23 L426.93,316.23 L438.70,309.55 L450.48,306.27 L462.25,307.47 L474.03,307.91 L485.80,298.71 L497.58,289.29" fill="none" stroke="#000" stroke-width="1.25" stroke-linejoin="round"/>
<path d="M391.60,322.80 L403.38,322.47 L415.15,317.87 L426.93,317.32 L438.70,315.79 L450.48,311.41 L462.25,305.28 L474.03,311.41 L485.80,317.98 L497.58,312.51" fill="none" stroke="#000" stroke-width="1.25" stroke-linejoin="round"/>
<path d="M391.60,322.80 L403.38,326.52 L415.15,322.80 L426.93,321.70 L438.70,318.53 L450.48,318.53 L462.25,312.51 L474.03,311.41 L485.80,317.98 L497.58,312.51" fill="none" stroke="#000" stroke-width="1.25" stroke-linejoin="round"/>
<path d="M391.60,322.80 L403.38,327.40 L415.15,323.89 L426.93,321.70 L438.70,320.61 L450.48,319.51 L462.25,316.23 L474.03,311.85 L485.80,311.85 L497.58,304.08" fill="none" stroke="#000" stroke-width="1.25" stroke-linejoin="round"/>
<path d="M391.60,322.80 L403.38,324.99 L415.15,324.99 L426.93,325.54 L438.70,325.10 L450.48,323.46 L462.25,321.81 L474.03,325.10 L485.80,327.29 L497.58,327.84" fill="none" stroke="#000" stroke-width="1.25" stroke-linejoin="round"/>
<line x1="569.9" y1="223.25" x2="569.9" y2="334.75" stroke="#000" stroke-width="2.0"/>
<line x1="568.9" y1="333.75" x2="680.8" y2="333.75" stroke="#000" stroke-width="2.0"/>
<line x1="565.4" y1="333.75" x2="569.9" y2="333.75" stroke="#000" stroke-width="2.0"/>
<line x1="565.4" y1="311.85" x2="569.9" y2="311.85" stroke="#000" stroke-width="2.0"/>
<line x1="565.4" y1="289.95" x2="569.9" y2="289.95" stroke="#000" stroke-width="2.0"/>
<line x1="565.4" y1="268.05" x2="569.9" y2="268.05" stroke="#000" stroke-width="2.0"/>
<line x1="565.4" y1="246.15" x2="569.9" y2="246.15" stroke="#000" stroke-width="2.0"/>
<line x1="565.4" y1="224.25" x2="569.9" y2="224.25" stroke="#000" stroke-width="2.0"/>
<line x1="569.9" y1="333.75" x2="569.9" y2="338.25" stroke="#000" stroke-width="2.0"/>
<line x1="597.375" y1="333.75" x2="597.375" y2="338.25" stroke="#000" stroke-width="2.0"/>
<line x1="624.85" y1="333.75" x2="624.85" y2="338.25" stroke="#000" stroke-width="2.0"/>
<line x1="652.3249999999999" y1="333.75" x2="652.3249999999999" y2="338.25" stroke="#000" stroke-width="2.0"/>
<line x1="679.8" y1="333.75" x2="679.8" y2="338.25" stroke="#000" stroke-width="2.0"/>
<text transform="translate(560.90,336.95) scale(0.94,1)" text-anchor="end" class="tk">0</text>
<text transform="translate(560.90,315.05) scale(0.94,1)" text-anchor="end" class="tk">2</text>
<text transform="translate(560.90,293.15) scale(0.94,1)" text-anchor="end" class="tk">4</text>
<text transform="translate(560.90,271.25) scale(0.94,1)" text-anchor="end" class="tk">6</text>
<text transform="translate(560.90,249.35) scale(0.94,1)" text-anchor="end" class="tk">8</text>
<text transform="translate(560.90,227.45) scale(0.94,1)" text-anchor="end" class="tk">10</text>
<text transform="translate(569.90,349.60) scale(0.94,1)" text-anchor="middle" class="tk">0</text>
<text transform="translate(597.38,349.60) scale(0.94,1)" text-anchor="middle" class="tk">7</text>
<text transform="translate(624.85,349.60) scale(0.94,1)" text-anchor="middle" class="tk">14</text>
<text transform="translate(652.32,349.60) scale(0.94,1)" text-anchor="middle" class="tk">21</text>
<text transform="translate(679.80,349.60) scale(0.94,1)" text-anchor="middle" class="tk">28</text>
<text transform="translate(542.40,279.00) rotate(-90)" text-anchor="middle" class="lb">Relative tumour growth</text>
<text x="624.85" y="364.0" text-anchor="middle" class="lb">Days</text>
<text x="624.50" y="216.6" text-anchor="middle" class="ti">OH14 + Docetaxel</text>
<path d="M569.90,322.80 L581.67,319.51 L593.45,317.87 L605.23,314.59 L617.00,310.43 L628.77,304.51 L640.55,306.38 L652.32,307.36 L664.10,296.96 L675.88,296.96" fill="none" stroke="#000" stroke-width="1.25" stroke-linejoin="round"/>
<path d="M569.90,322.80 L581.67,316.34 L593.45,311.96 L605.23,309.66 L617.00,311.41 L628.77,310.86 L640.55,311.30 L652.32,311.30 L664.10,311.30 L675.88,313.16" fill="none" stroke="#000" stroke-width="1.25" stroke-linejoin="round"/>
<path d="M569.90,322.80 L581.67,318.64 L593.45,316.23 L605.23,314.59 L617.00,312.07 L628.77,310.21 L640.55,311.30 L652.32,309.66 L664.10,305.28 L675.88,304.51" fill="none" stroke="#000" stroke-width="1.25" stroke-linejoin="round"/>
<path d="M569.90,322.80 L581.67,320.61 L593.45,319.51 L605.23,319.51 L617.00,319.51 L628.77,320.61 L640.55,319.51 L652.32,315.13 L664.10,305.28 L675.88,305.06" fill="none" stroke="#000" stroke-width="1.25" stroke-linejoin="round"/>
<path d="M569.90,322.80 L581.67,323.24 L593.45,321.16 L605.23,320.61 L617.00,321.16 L628.77,321.70 L640.55,322.80 L652.32,323.79 L664.10,316.23 L675.88,317.98" fill="none" stroke="#000" stroke-width="1.25" stroke-linejoin="round"/>
<path d="M569.90,322.80 L581.67,324.99 L593.45,322.25 L605.23,321.70 L617.00,322.80 L628.77,324.99 L640.55,328.82 L652.32,327.18 L664.10,326.63 L675.88,326.30" fill="none" stroke="#000" stroke-width="1.25" stroke-linejoin="round"/>
<path d="M569.90,322.80 L581.67,319.51 L593.45,317.87 L605.23,320.61 L617.00,324.99 L628.77,326.52 L640.55,326.74" fill="none" stroke="#000" stroke-width="1.25" stroke-linejoin="round"/>
<path d="M569.90,322.80 L581.67,320.61 L593.45,324.99 L605.23,323.89 L617.00,326.08 L628.77,326.08 L640.55,326.30" fill="none" stroke="#000" stroke-width="1.25" stroke-linejoin="round"/>
<line x1="628.6" y1="326.3" x2="640.4" y2="326.4" stroke="#6a6a6a" stroke-width="2.2"/>
</svg></body></html>
